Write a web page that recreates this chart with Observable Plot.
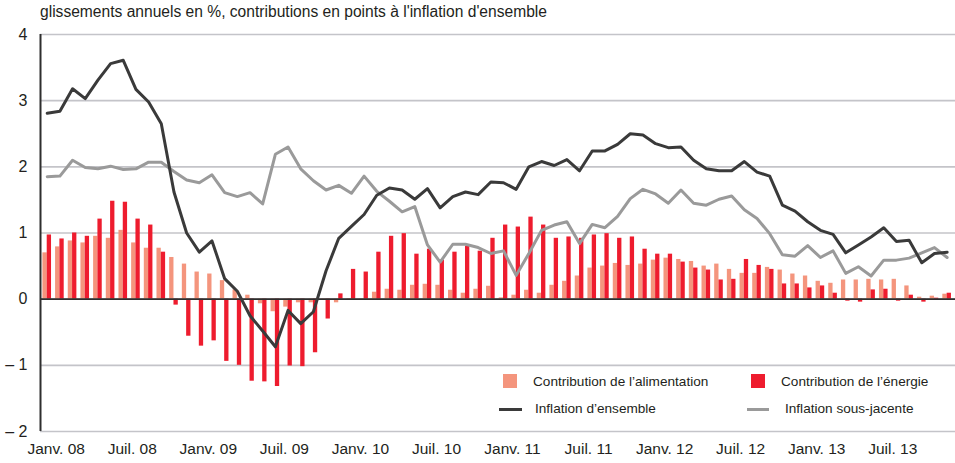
<!DOCTYPE html>
<html>
<head>
<meta charset="utf-8">
<script src="https://cdn.jsdelivr.net/npm/d3@7"></script>
<script src="https://cdn.jsdelivr.net/npm/@observablehq/plot@0.6"></script>
<style>
  html, body { margin: 0; padding: 0; background: #fff; }
  #wrap { position: relative; width: 955px; height: 463px; font-family: "Liberation Sans", Arial, sans-serif; color: #231f20; }
  #title { position: absolute; left: 40px; top: 3px; font-size: 15.6px; white-space: nowrap; }
  .leg { position: absolute; font-size: 13.6px; white-space: nowrap; line-height: 14px; }
  .sw { position: absolute; }
</style>
</head>
<body>
<div id="wrap">
  <div id="chart"></div>
  <div id="title">glissements annuels en %, contributions en points à l'inflation d'ensemble</div>
  <div class="sw" style="left:503px;top:374px;width:13.5px;height:14px;background:#f4957d"></div>
  <div class="leg" style="left:533px;top:375px">Contribution de l’alimentation</div>
  <div class="sw" style="left:751px;top:374px;width:14px;height:14px;background:#ee1c2e"></div>
  <div class="leg" style="left:781px;top:375px">Contribution de l’énergie</div>
  <div class="sw" style="left:499px;top:408px;width:23px;height:3px;background:#3a3a3a"></div>
  <div class="leg" style="left:535px;top:402px">Inflation d’ensemble</div>
  <div class="sw" style="left:747px;top:408px;width:22px;height:3px;background:#9a9a9a"></div>
  <div class="leg" style="left:785px;top:402px">Inflation sous-jacente</div>
</div>
<script>
// Monthly values, Jan 2008 .. Dec 2013
const foodContribution = [
  0.70, 0.79, 0.88, 0.85, 0.95, 0.92, 1.04, 0.85, 0.77, 0.77, 0.63, 0.53,
  0.41, 0.38, 0.28, 0.14, 0.06, -0.07, -0.19, -0.12, -0.055, -0.055, -0.02, -0.055,
  0.01, 0.005, 0.105, 0.15, 0.135, 0.21, 0.225, 0.21, 0.135, 0.09, 0.15, 0.195,
  0.02, 0.06, 0.135, 0.09, 0.21, 0.27, 0.35, 0.47, 0.50, 0.54, 0.51, 0.53,
  0.59, 0.62, 0.60, 0.57, 0.50, 0.53, 0.45, 0.39, 0.39, 0.48, 0.44, 0.38,
  0.35, 0.27, 0.24, 0.29, 0.29, 0.30, 0.29, 0.30, 0.20, 0.03, 0.045, 0.075
];
const energyContribution = [
  0.97, 0.91, 1.00, 0.95, 1.21, 1.48, 1.465, 1.21, 1.12, 0.71, -0.09, -0.56,
  -0.71, -0.63, -0.94, -1.00, -1.24, -1.25, -1.32, -1.01, -1.02, -0.81, -0.30, 0.08,
  0.45, 0.41, 0.71, 0.95, 0.99, 0.68, 0.755, 0.59, 0.71, 0.80, 0.725, 0.92,
  1.12, 1.09, 1.24, 1.12, 0.92, 0.94, 0.92, 0.97, 0.99, 0.92, 0.94, 0.755,
  0.68, 0.68, 0.56, 0.47, 0.44, 0.29, 0.30, 0.60, 0.51, 0.45, 0.23, 0.23,
  0.17, 0.20, 0.09, -0.03, -0.045, 0.14, 0.15, -0.03, 0.06, -0.045, 0.015, 0.09
];
const headlineInflation = [
  2.81, 2.84, 3.18, 3.03, 3.31, 3.56, 3.61, 3.17, 2.98, 2.65, 1.62, 1.00,
  0.71, 0.88, 0.31, 0.12, -0.25, -0.48, -0.72, -0.17, -0.37, -0.19, 0.43, 0.92,
  1.10, 1.28, 1.57, 1.68, 1.65, 1.51, 1.67, 1.38, 1.55, 1.62, 1.58, 1.77,
  1.76, 1.66, 2.00, 2.08, 2.02, 2.11, 1.94, 2.24, 2.24, 2.34, 2.50, 2.48,
  2.35, 2.29, 2.30, 2.10, 1.97, 1.94, 1.94, 2.08, 1.92, 1.86, 1.42, 1.33,
  1.17, 1.04, 0.98, 0.70, 0.82, 0.94, 1.08, 0.87, 0.89, 0.55, 0.69, 0.71
];
const coreInflation = [
  1.85, 1.86, 2.10, 1.99, 1.97, 2.01, 1.96, 1.97, 2.07, 2.07, 1.93, 1.80,
  1.76, 1.88, 1.61, 1.55, 1.61, 1.44, 2.19, 2.30, 1.97, 1.79, 1.65, 1.72,
  1.60, 1.86, 1.63, 1.48, 1.32, 1.40, 0.82, 0.56, 0.83, 0.83, 0.78, 0.69,
  0.73, 0.36, 0.69, 1.04, 1.12, 1.17, 0.84, 1.13, 1.08, 1.25, 1.52, 1.66,
  1.59, 1.45, 1.65, 1.45, 1.42, 1.51, 1.56, 1.35, 1.22, 0.99, 0.67, 0.65,
  0.81, 0.63, 0.73, 0.39, 0.49, 0.35, 0.59, 0.59, 0.62, 0.70, 0.78, 0.63
];
const tickMonths = [0, 6, 12, 18, 24, 30, 36, 42, 48, 54, 60, 66];
const tickLabels = ["Janv. 08", "Juil. 08", "Janv. 09", "Juil. 09", "Janv. 10", "Juil. 10",
                    "Janv. 11", "Juil. 11", "Janv. 12", "Juil. 12", "Janv. 13", "Juil. 13"];
const yTicks = [-2, -1, 0, 1, 2, 3, 4];

const rows = foodContribution.map((f, i) => ({
  i, food: f, energy: energyContribution[i], headline: headlineInflation[i], core: coreInflation[i]
}));
const barW = 0.34;
const xMin = -0.53, xMax = 71.66;

const chart = Plot.plot({
  width: 955,
  height: 463,
  marginTop: 34,
  marginBottom: 32,
  marginLeft: 40,
  marginRight: 0,
  x: {domain: [xMin, xMax], label: null},
  y: {domain: [-2, 4], label: null},
  style: {fontFamily: "'Liberation Sans', Arial, sans-serif", color: "#231f20", background: "transparent"},
  marks: [
    Plot.ruleY(yTicks, {stroke: "#c4c4c9", strokeWidth: 1.6}),
    Plot.rectY(rows, {x1: d => d.i - barW, x2: d => d.i, y1: 0, y2: "food", fill: "#f4957d"}),
    Plot.rectY(rows, {x1: d => d.i, x2: d => d.i + barW, y1: 0, y2: "energy", fill: "#ee1c2e"}),
    Plot.ruleY([0], {stroke: "#2e2e2e", strokeWidth: 1.6}),
    Plot.ruleX([xMin], {y1: -2, y2: 4, stroke: "#2e2e2e", strokeWidth: 2}),
    Plot.lineY(rows, {x: "i", y: "core", stroke: "#9a9a9a", strokeWidth: 3}),
    Plot.lineY(rows, {x: "i", y: "headline", stroke: "#3a3a3a", strokeWidth: 3}),
    Plot.axisY(yTicks, {
      label: null, tickSize: 0, tickPadding: 13, fontSize: 16,
      tickFormat: d => d < 0 ? "– " + (-d) : String(d)
    }),
    Plot.axisX(tickMonths, {
      label: null, tickSize: 0, tickPadding: 11, fontSize: 15.5, dx: 9,
      tickFormat: d => tickLabels[tickMonths.indexOf(d)]
    })
  ]
});
document.getElementById("chart").appendChild(chart);
</script>
</body>
</html>
